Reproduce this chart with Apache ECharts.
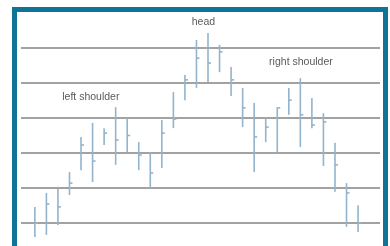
<!DOCTYPE html>
<html>
<head>
<meta charset="utf-8">
<script src="https://cdn.jsdelivr.net/npm/echarts@6/dist/echarts.min.js"></script>
<style>
  html, body { margin: 0; padding: 0; background: #fff; }
  #chart { width: 390px; height: 246px; }
</style>
</head>
<body>
<div id="chart"></div>
<script>
// one entry per session
const highs  = [14.6, 18.6, 19.7, 24.6, 34.6, 38.6, 37.1, 43.1, 40.0, 33.1, 30.3, 39.4, 47.4, 52.3, 62.3,
                64.3, 60.9, 54.6, 48.6, 44.3, 40.3, 43.1, 48.6, 51.4, 45.7, 41.4, 32.9, 21.4, 15.1];
const lows   = [6.0, 6.6, 9.4, 18.0, 25.1, 21.7, 32.3, 26.6, 30.3, 25.1, 20.0, 25.7, 37.1, 45.1, 48.6,
                50.3, 53.1, 46.3, 37.4, 24.6, 33.1, 30.0, 40.9, 31.7, 37.1, 26.3, 18.9, 8.9, 7.4];
const closes = [10.0, 15.4, 14.6, 21.4, 32.3, 27.7, 35.7, 33.7, 35.0, 29.4, 24.3, 35.7, 39.7, 50.9, 57.1,
                55.7, 58.9, 50.9, 42.9, 34.6, 37.4, 42.9, 45.1, 40.9, 38.0, 38.9, 26.6, 18.6, 10.0];

const notes = ["head", "left shoulder", "right shoulder"];
const noteX = [14.6, 4.85, 23.05];
const noteY = [67.4, 46.0, 56.0];

const bars = highs.map((h, i) => [i, lows[i], h, closes[i]]);
const noteData = notes.map((t, i) => ({ value: [noteX[i], noteY[i]], name: t }));

const chart = echarts.init(document.getElementById("chart"));

chart.setOption({
  animation: false,
  backgroundColor: "#fff",
  grid: { left: 21, width: 359, top: 13, height: 245, outerBoundsMode: "none", containLabel: false },
  xAxis: {
    type: "value",
    min: -1.2,
    max: 29.9,
    show: false
  },
  yAxis: {
    type: "value",
    min: 0,
    max: 70,
    interval: 10,
    axisLine: { show: false },
    axisTick: { show: false },
    axisLabel: { show: false },
    splitLine: {
      show: true,
      showMinLine: false,
      showMaxLine: false,
      lineStyle: { color: "#a2a2a2", width: 2 }
    }
  },
  series: [
    {
      type: "custom",
      data: bars,
      clip: false,
      renderItem: function (params, api) {
        const x = api.value(0);
        const lo = api.coord([x, api.value(1)]);
        const hi = api.coord([x, api.value(2)]);
        const cl = api.coord([x, api.value(3)]);
        const style = { stroke: "#93b4cb", lineWidth: 1.6 };
        return {
          type: "group",
          children: [
            { type: "line", shape: { x1: lo[0], y1: lo[1], x2: hi[0], y2: hi[1] }, style: style },
            { type: "line", shape: { x1: cl[0], y1: cl[1], x2: cl[0] + 3, y2: cl[1] }, style: style }
          ]
        };
      }
    },
    {
      type: "scatter",
      data: noteData,
      symbolSize: 0,
      label: {
        show: true,
        position: "inside",
        formatter: "{b}",
        color: "#2e2e2e",
        fontSize: 10.5,
        fontFamily: "Liberation Sans"
      }
    }
  ],
  graphic: [
    {
      type: "polyline",
      shape: { points: [[14.5, 246], [14.5, 9.5], [385.5, 9.5], [385.5, 246]] },
      style: { stroke: "#0f7597", lineWidth: 5, fill: null },
      z: 100
    }
  ]
});
</script>
</body>
</html>
